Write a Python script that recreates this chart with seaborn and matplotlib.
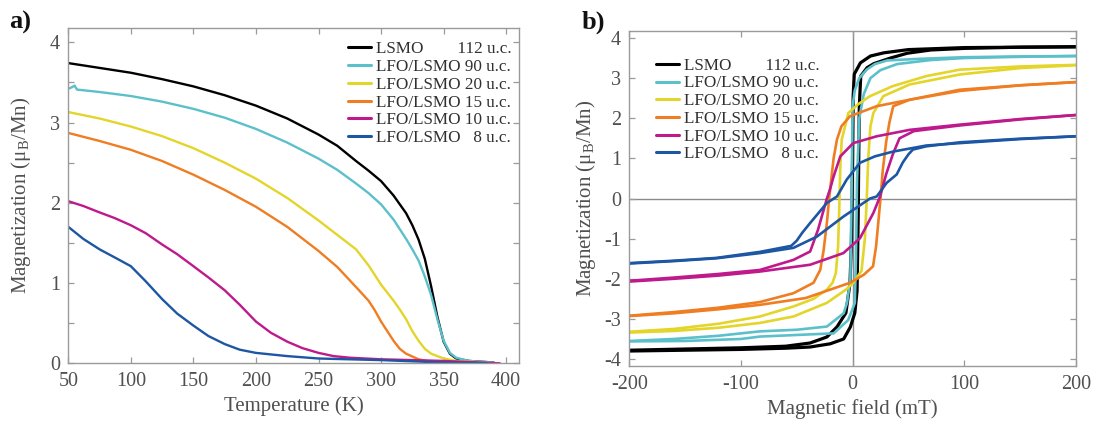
import numpy as np
import pandas as pd
import matplotlib
matplotlib.use("Agg")
import matplotlib.pyplot as plt
import seaborn as sns
from matplotlib.ticker import MultipleLocator

# ---------------- data: panel a (M vs T) ----------------
labels = ["LSMO        112 u.c.", "LFO/LSMO 90 u.c.", "LFO/LSMO 20 u.c.",
          "LFO/LSMO 15 u.c.", "LFO/LSMO 10 u.c.", "LFO/LSMO   8 u.c."]
colors = ["#000000", "#5cc0cb", "#e3d52a", "#ef7d22", "#be1a8c", "#1d56a3"]

T_lsmo = [50, 75, 100, 125, 150, 175, 200, 225, 250, 265, 280, 290, 300, 310, 320, 325, 330, 335, 340, 345, 350, 355, 360, 370, 390]
M_lsmo = [3.74, 3.68, 3.62, 3.54, 3.45, 3.34, 3.21, 3.05, 2.85, 2.71, 2.52, 2.40, 2.27, 2.09, 1.87, 1.72, 1.54, 1.30, 0.96, 0.58, 0.27, 0.12, 0.06, 0.03, 0.01]

T_90 = [50, 53, 55, 57, 75, 100, 125, 150, 175, 200, 225, 250, 265, 280, 290, 300, 310, 320, 325, 330, 335, 340, 345, 350, 355, 360, 370, 390]
M_90 = [3.42, 3.44, 3.46, 3.41, 3.38, 3.33, 3.26, 3.17, 3.06, 2.92, 2.75, 2.55, 2.41, 2.24, 2.12, 1.98, 1.79, 1.55, 1.42, 1.28, 1.08, 0.85, 0.55, 0.28, 0.13, 0.07, 0.03, 0.01]

T_20 = [50, 75, 100, 125, 150, 175, 200, 225, 250, 265, 280, 290, 300, 310, 315, 320, 325, 330, 335, 340, 350, 360, 380]
M_20 = [3.13, 3.05, 2.95, 2.83, 2.68, 2.50, 2.30, 2.06, 1.78, 1.60, 1.42, 1.22, 0.98, 0.78, 0.67, 0.55, 0.40, 0.28, 0.18, 0.12, 0.06, 0.03, 0.01]

T_15 = [50, 75, 100, 125, 150, 175, 200, 225, 250, 265, 280, 290, 295, 300, 305, 310, 315, 320, 330, 340, 360]
M_15 = [2.87, 2.77, 2.66, 2.52, 2.35, 2.16, 1.95, 1.70, 1.40, 1.20, 0.95, 0.78, 0.66, 0.52, 0.40, 0.28, 0.18, 0.12, 0.05, 0.02, 0.01]

T_10 = [50, 62, 75, 87, 100, 112, 125, 137, 150, 162, 175, 187, 200, 212, 225, 237, 250, 262, 275, 300, 350, 395]
M_10 = [2.02, 1.96, 1.88, 1.81, 1.72, 1.62, 1.48, 1.36, 1.21, 1.07, 0.91, 0.73, 0.52, 0.38, 0.27, 0.19, 0.13, 0.09, 0.07, 0.05, 0.03, 0.0]

T_8 = [50, 62, 75, 87, 100, 112, 125, 137, 150, 162, 175, 187, 200, 225, 250, 300, 350, 385]
M_8 = [1.70, 1.55, 1.42, 1.32, 1.21, 1.02, 0.80, 0.62, 0.47, 0.34, 0.24, 0.17, 0.13, 0.09, 0.06, 0.04, 0.01, 0.0]

# ---------------- data: panel b (hysteresis loops) ----------------
# descending branch (+200 -> -200) and ascending branch (-200 -> +200)
H_dn_lsmo = [200, 150, 100, 50, 28, 16, 7, 1.5, 0.5, 0, -0.5, -1.0, -2.3, -6, -14, -23, -38, -60, -100, -150, -200]
M_dn_lsmo = [3.78, 3.77, 3.76, 3.71, 3.63, 3.55, 3.38, 3.1, 2.55, 1.0, 0.0, -1.0, -2.1, -2.85, -3.2, -3.45, -3.6, -3.68, -3.72, -3.75, -3.78]
H_up_lsmo = [-200, -150, -100, -60, -38, -20, -8, -2, 2, 4, 5, 5.5, 6, 7.3, 13, 19, 34, 49, 70, 100, 150, 200]
M_up_lsmo = [-3.80, -3.78, -3.76, -3.73, -3.70, -3.62, -3.5, -3.2, -2.85, -2.3, -0.5, 1.0, 2.3, 3.05, 3.26, 3.36, 3.5, 3.62, 3.7, 3.74, 3.77, 3.78]

H_dn_90 = [200, 150, 100, 60, 31, 20, 12.6, 6, 2, 0, -1, -2, -5, -8, -23, -50, -83, -120, -160, -200]
M_dn_90 = [3.55, 3.54, 3.52, 3.48, 3.44, 3.35, 3.21, 3.0, 2.7, 2.3, 0.0, -2.0, -2.6, -2.86, -3.19, -3.27, -3.31, -3.42, -3.5, -3.55]
H_up_90 = [-200, -150, -100, -83, -50, -17, -4, 0, 2, 3, 4, 6, 10, 16, 25, 40, 70, 100, 150, 200]
M_up_90 = [-3.56, -3.55, -3.5, -3.44, -3.4, -3.36, -3.03, -2.75, -2.6, -1.5, 0.5, 2.0, 2.6, 3.0, 3.2, 3.35, 3.45, 3.5, 3.53, 3.55]

H_dn_20 = [200, 150, 96, 66, 36, 15.6, 5, -3.8, -9.7, -11, -12, -13, -15, -18, -23, -35, -53, -83, -120, -160, -200]
M_dn_20 = [3.33, 3.29, 3.21, 3.05, 2.8, 2.55, 2.35, 2.13, 1.47, 0.8, -0.3, -1.2, -1.86, -2.1, -2.27, -2.5, -2.69, -2.94, -3.12, -3.25, -3.32]
H_up_20 = [-200, -160, -120, -83, -53, -23, -5, 0.6, 8, 11, 12.7, 14, 16, 18.6, 27.5, 51, 96, 150, 200]
M_up_20 = [-3.34, -3.3, -3.22, -3.1, -2.94, -2.6, -2.25, -2.1, -1.8, -1.0, 0.0, 1.0, 1.8, 2.13, 2.55, 2.84, 3.09, 3.25, 3.32]

H_dn_15 = [200, 150, 96, 51, 21.6, -2.3, -10, -14, -17, -19, -21, -23, -26, -29, -35, -53, -83, -120, -160, -200]
M_dn_15 = [2.9, 2.82, 2.71, 2.46, 2.3, 2.05, 1.8, 1.47, 1.0, 0.5, 0.0, -0.6, -1.3, -1.78, -2.1, -2.36, -2.58, -2.72, -2.83, -2.92]
H_up_15 = [-200, -160, -120, -83, -42, -2.3, 10, 18.3, 21, 23, 25, 27, 30, 33, 36.4, 51, 96, 150, 200]
M_up_15 = [-2.93, -2.86, -2.76, -2.65, -2.48, -2.1, -1.9, -1.69, -1.2, -0.6, 0.0, 0.7, 1.4, 1.9, 2.3, 2.46, 2.68, 2.82, 2.9]

H_dn_10 = [200, 150, 96, 51, 21.6, 0.6, -11, -17, -20, -23, -31, -38, -53, -83, -120, -160, -200]
M_dn_10 = [2.08, 1.98, 1.84, 1.71, 1.55, 1.38, 1.05, 0.55, 0.25, 0.0, -0.78, -1.32, -1.53, -1.78, -1.88, -1.97, -2.05]
H_up_10 = [-200, -160, -120, -83, -38, -8.2, 6.6, 18.6, 24.6, 30, 36, 42, 55, 96, 150, 200]
M_up_10 = [-2.07, -2.0, -1.92, -1.82, -1.65, -1.36, -0.99, -0.36, 0.05, 0.6, 1.1, 1.5, 1.68, 1.82, 1.97, 2.08]

H_dn_8 = [200, 150, 96, 66, 36.4, 20, 6.6, -5.3, -14, -23, -38, -45, -50, -55, -68, -83, -122, -160, -200]
M_dn_8 = [1.55, 1.48, 1.38, 1.32, 1.17, 1.05, 0.89, 0.47, 0.05, -0.11, -0.61, -0.85, -1.05, -1.18, -1.25, -1.33, -1.48, -1.55, -1.61]
H_up_8 = [-200, -160, -122, -83, -53, -32, -8.2, 15.6, 21.6, 30.5, 39.5, 45, 50, 54, 66, 96, 150, 200]
M_up_8 = [-1.62, -1.56, -1.49, -1.36, -1.23, -0.95, -0.45, 0.0, 0.05, 0.39, 0.6, 0.9, 1.1, 1.22, 1.3, 1.4, 1.49, 1.55]

mt_data = [(T_lsmo, M_lsmo), (T_90, M_90), (T_20, M_20), (T_15, M_15), (T_10, M_10), (T_8, M_8)]
loops = [((H_dn_lsmo, M_dn_lsmo), (H_up_lsmo, M_up_lsmo)),
         ((H_dn_90, M_dn_90), (H_up_90, M_up_90)),
         ((H_dn_20, M_dn_20), (H_up_20, M_up_20)),
         ((H_dn_15, M_dn_15), (H_up_15, M_up_15)),
         ((H_dn_10, M_dn_10), (H_up_10, M_up_10)),
         ((H_dn_8, M_dn_8), (H_up_8, M_up_8))]

# ---------------- style ----------------
sns.set_theme(style="white")
plt.rcParams["font.family"] = ["Liberation Serif", "DejaVu Serif"]
plt.rcParams["mathtext.fontset"] = "custom"
plt.rcParams["mathtext.rm"] = "Liberation Serif"
plt.rcParams["axes.unicode_minus"] = False
grey_txt = "#505050"
spine_c = "#9a9a9a"

fig = plt.figure(figsize=(10.98, 4.21), dpi=100)
ax1 = fig.add_axes([0.0622, 0.137, 0.4102, 0.797])
ax2 = fig.add_axes([0.5731, 0.130, 0.4068, 0.797])

# panel a
for (T, M), lab, c in zip(mt_data, labels, colors):
    df = pd.DataFrame({"T": T, "M": M})
    sns.lineplot(data=df, x="T", y="M", ax=ax1, color=c, lw=1.7, label=lab, sort=False)

ax1.set_xlim(50, 410)
ax1.set_ylim(0, 4.18)
ax1.xaxis.set_major_locator(MultipleLocator(50))
ax1.yaxis.set_major_locator(MultipleLocator(1))
ax1.yaxis.set_minor_locator(MultipleLocator(0.5))
ax1.set_xlabel("Temperature (K)", fontsize=15, color=grey_txt, labelpad=4)
ax1.set_ylabel("Magnetization (μ$_\\mathregular{B}$/Mn)", fontsize=15, color=grey_txt, labelpad=12)

# panel b
ax2.axhline(0, color="#8a8a8a", lw=1.0, zorder=0)
ax2.axvline(0, color="#8a8a8a", lw=1.0, zorder=0)
for ((Hd, Md), (Hu, Mu)), lab, c in zip(loops, labels, colors):
    w = 2.3 if c == "#000000" else 1.9
    dd = pd.DataFrame({"H": Hd, "M": Md})
    du = pd.DataFrame({"H": Hu, "M": Mu})
    sns.lineplot(data=dd, x="H", y="M", ax=ax2, color=c, lw=w, label=lab, sort=False)
    sns.lineplot(data=du, x="H", y="M", ax=ax2, color=c, lw=w, sort=False)

ax2.set_xlim(-200, 200)
ax2.set_ylim(-4.18, 4.18)
ax2.xaxis.set_major_locator(MultipleLocator(100))
ax2.yaxis.set_major_locator(MultipleLocator(1))
ax2.set_xlabel("Magnetic field (mT)", fontsize=15, color=grey_txt, labelpad=4)
ax2.set_ylabel("Magnetization (μ$_\\mathregular{B}$/Mn)", fontsize=15, color=grey_txt, labelpad=4)

for ax in (ax1, ax2):
    for s in ax.spines.values():
        s.set_color(spine_c)
        s.set_linewidth(1.0)
    ax.tick_params(which="both", direction="in", top=True, right=True, bottom=True, left=True,
                   color=spine_c, labelcolor=grey_txt, labelsize=14.5, length=4, width=0.9, pad=6)
    ax.tick_params(which="minor", length=4)

leg_kw = dict(loc="upper left", frameon=False, fontsize=12.3, handlelength=1.35,
              handletextpad=0.3, labelspacing=0.1, borderpad=0.2)
ax1.legend(bbox_to_anchor=(0.595, 0.995), **leg_kw)
ax2.legend(bbox_to_anchor=(0.033, 0.955), **leg_kw)
for lg in (ax1.get_legend(), ax2.get_legend()):
    for t in lg.get_texts():
        t.set_color("#303030")
    for l in lg.get_lines():
        l.set_linewidth(2.2)

fig.text(0.008, 0.975, "a)", fontsize=19, fontweight="bold", va="top", ha="left", color="#111111")
fig.text(0.530, 0.975, "b)", fontsize=19, fontweight="bold", va="top", ha="left", color="#111111")

fig.savefig("out.png", dpi=100)
